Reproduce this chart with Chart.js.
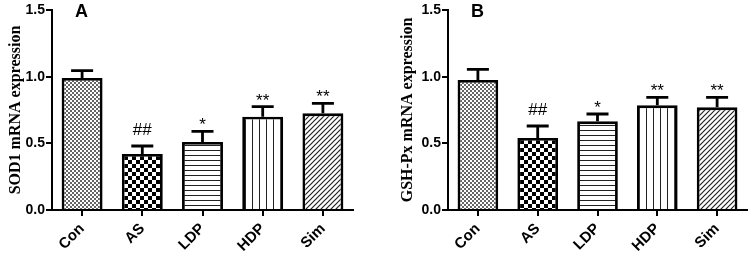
<!DOCTYPE html>
<html>
<head>
<meta charset="utf-8">
<script src="https://cdn.jsdelivr.net/npm/chart.js@4"></script>
<style>
  body { margin: 0; background: #fff; }
  .panel { position: absolute; top: 0; height: 258px; }
  #wrapA { left: 0; width: 380px; }
  #wrapB { left: 380px; width: 375px; }
</style>
</head>
<body>
<div class="panel" id="wrapA"><canvas id="sod"></canvas></div>
<div class="panel" id="wrapB"><canvas id="gsh"></canvas></div>
<script>
const groups = ['Con', 'AS', 'LDP', 'HDP', 'Sim'];
const sodMean = [0.99, 0.42, 0.51, 0.70, 0.725];
const sodErr = [0.055, 0.06, 0.08, 0.075, 0.075];
const gshMean = [0.975, 0.54, 0.665, 0.785, 0.77];
const gshErr = [0.08, 0.09, 0.055, 0.06, 0.075];
const marks = ['', '##', '*', '**', '**'];
const yTicks = [0, 0.5, 1.0, 1.5];

// fill patterns, one per group
const makePattern = (kind) => {
    const c = document.createElement('canvas');
    const g = c.getContext('2d');
    let s = 4;
    if (kind == 'checker') s = 8;
    if (kind == 'vert') s = 7;
    if (kind == 'horiz') s = 5;
    if (kind == 'diag') s = 5;
    c.width = s; c.height = s;
    g.fillStyle = '#fff';
    g.fillRect(0, 0, s, s);
    g.fillStyle = '#222';
    g.strokeStyle = '#222';
    if (kind == 'fine') {
        g.fillStyle = '#666';
        g.fillRect(0, 0, 2, 2);
        g.fillRect(2, 2, 2, 2);
    } else if (kind == 'checker') {
        g.fillStyle = '#000';
        g.fillRect(0, 0, 4, 4);
        g.fillRect(4, 4, 4, 4);
    } else if (kind == 'horiz') {
        g.fillRect(0, 0, s, 1);
    } else if (kind == 'vert') {
        g.fillRect(0, 0, 1, s);
    } else if (kind == 'diag') {
        g.lineWidth = 1.2;
        g.beginPath();
        g.moveTo(-1, s + 1); g.lineTo(s + 1, -1);
        g.moveTo(-1, 1); g.lineTo(1, -1);
        g.moveTo(s - 1, s + 1); g.lineTo(s + 1, s - 1);
        g.stroke();
    }
    return g.createPattern(c, 'repeat');
};
const fills = ['fine', 'checker', 'horiz', 'vert', 'diag'].map(makePattern);

// upper error bars and significance marks
const errorBars = {
    id: 'errorBars',
    afterDatasetsDraw(chart, args, opts) {
        const ctx = chart.ctx;
        const yScale = chart.scales.y;
        const meta = chart.getDatasetMeta(0);
        const means = chart.data.datasets[0].data;
        ctx.save();
        ctx.strokeStyle = '#000';
        ctx.lineWidth = 2.8;
        meta.data.forEach((bar, i) => {
            const top = yScale.getPixelForValue(means[i] + opts.err[i]);
            ctx.beginPath();
            ctx.moveTo(bar.x, bar.y);
            ctx.lineTo(bar.x, top);
            ctx.moveTo(bar.x - 11, top);
            ctx.lineTo(bar.x + 11, top);
            ctx.stroke();
            const m = opts.marks[i];
            if (m) {
                ctx.fillStyle = '#000';
                ctx.font = '17px "Liberation Sans", Arial, sans-serif';
                ctx.textAlign = 'center';
                ctx.textBaseline = 'alphabetic';
                ctx.fillText(m, bar.x, top - (m[0] == '#' ? 11 : 1));
            }
        });
        // panel letter
        ctx.fillStyle = '#000';
        ctx.font = 'bold 18px "Liberation Sans", Arial, sans-serif';
        ctx.textAlign = 'left';
        ctx.textBaseline = 'top';
        ctx.fillText(opts.letter, chart.chartArea.left + 23, 3);
        ctx.restore();
    }
};

const makeChart = (id, title, means, errs, letter, padLeft, padRight, axisW) => {
    return new Chart(document.getElementById(id), {
        type: 'bar',
        data: {
            labels: groups,
            datasets: [{
                data: means,
                backgroundColor: fills,
                borderColor: '#000',
                borderWidth: 2.8,
                barPercentage: 0.8,
                categoryPercentage: 0.85
            }]
        },
        options: {
            responsive: true,
            maintainAspectRatio: false,
            animation: false,
            layout: {
                padding: { top: 10, left: padLeft, right: padRight, bottom: 0 }
            },
            plugins: {
                legend: { display: false },
                tooltip: { enabled: false },
                errorBars: { err: errs, marks: marks, letter: letter }
            },
            scales: {
                x: {
                    afterFit: (s) => { s.height = 48; },
                    border: { display: true, color: '#000', width: 2 },
                    grid: {
                        offset: false,
                        drawOnChartArea: false,
                        drawTicks: true,
                        tickLength: 6,
                        color: '#000',
                        lineWidth: 2
                    },
                    ticks: {
                        color: '#000',
                        minRotation: 45,
                        maxRotation: 45,
                        padding: 4,
                        font: { family: '"Liberation Sans", Arial, sans-serif', size: 15, weight: 'bold' }
                    }
                },
                y: {
                    min: 0,
                    max: 1.5,
                    afterFit: (s) => { s.width = axisW; },
                    afterBuildTicks: (s) => { s.ticks = yTicks.map(v => ({ value: v })); },
                    border: { display: true, color: '#000', width: 2 },
                    grid: {
                        drawOnChartArea: false,
                        drawTicks: true,
                        tickLength: 6,
                        color: '#000',
                        lineWidth: 2
                    },
                    ticks: {
                        color: '#000',
                        padding: 1,
                        font: { family: '"Liberation Sans", Arial, sans-serif', size: 14, weight: 'bold' },
                        callback: (v) => Number(v).toFixed(1)
                    },
                    title: {
                        display: true,
                        text: title,
                        color: '#000',
                        padding: { top: 0, bottom: 0 },
                        font: { family: '"Liberation Serif", "Times New Roman", serif', size: 16, weight: 'bold' }
                    }
                }
            }
        },
        plugins: [errorBars]
    });
};

makeChart('sod', 'SOD1 mRNA expression', sodMean, sodErr, 'A', 6, 27, 46);
makeChart('gsh', 'GSH-Px mRNA expression', gshMean, gshErr, 'B', 18, 8, 50);
</script>
</body>
</html>
